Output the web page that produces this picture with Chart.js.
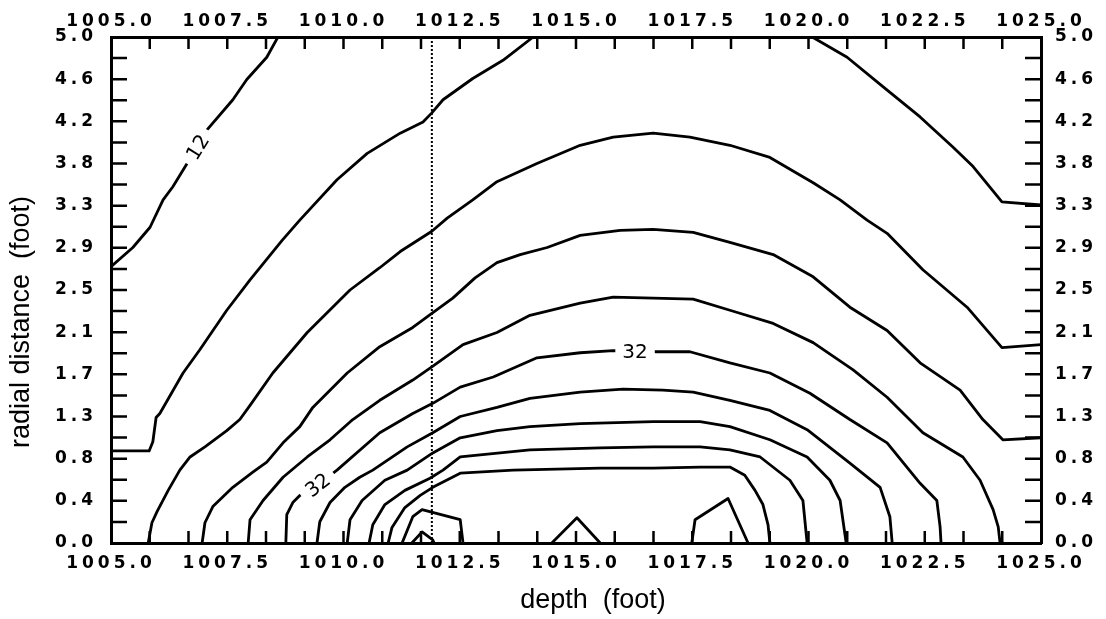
<!DOCTYPE html>
<html>
<head>
<meta charset="utf-8">
<script src="https://cdn.jsdelivr.net/npm/chart.js@4.4.1/dist/chart.umd.min.js"></script>
<style>
  html, body { margin: 0; padding: 0; background: #fff; }
  canvas { display: block; }
</style>
</head>
<body>
<canvas id="chart" width="1106" height="619"></canvas>
<script>
// Axis ticks
const depthTicks = [1005, 1007.5, 1010, 1012.5, 1015, 1017.5, 1020, 1022.5, 1025];
const depthTickLabels = ['1005.0', '1007.5', '1010.0', '1012.5', '1015.0', '1017.5', '1020.0', '1022.5', '1025.0'];
const radialTicks = [0, 0.4167, 0.8333, 1.25, 1.6667, 2.0833, 2.5, 2.9167, 3.3333, 3.75, 4.1667, 4.5833, 5];
const radialTickLabels = ['0.0', '0.4', '0.8', '1.3', '1.7', '2.1', '2.5', '2.9', '3.3', '3.8', '4.2', '4.6', '5.0'];

// Contour lines, [depth (foot), radial distance (foot)]
const iso12 = [[1005.00, 2.73], [1005.47, 2.92], [1005.84, 3.12], [1006.12, 3.39], [1006.33, 3.52], [1006.85, 3.91],
  [1007.06, 4.08], [1007.62, 4.38], [1007.92, 4.58], [1008.35, 4.80], [1008.59, 5.00]];
const isoB = [[1005.00, 0.91], [1005.82, 0.91], [1005.90, 1.00], [1005.97, 1.24], [1006.05, 1.28], [1006.55, 1.68],
  [1006.91, 1.91], [1007.49, 2.30], [1007.99, 2.60], [1008.68, 2.99], [1009.06, 3.19], [1009.86, 3.59], [1010.51, 3.85],
  [1011.22, 4.05], [1011.71, 4.16], [1011.90, 4.25], [1012.14, 4.38], [1012.78, 4.59], [1013.43, 4.77], [1014.08, 5.00]];
const isoBTop = [[1020.08, 5.00], [1020.83, 4.80], [1021.60, 4.51], [1022.40, 4.21], [1023.11, 3.91], [1023.54, 3.72],
  [1024.16, 3.37], [1025.00, 3.34]];
const isoC = [[1005.80, 0.00], [1005.88, 0.20], [1005.99, 0.31], [1006.23, 0.52], [1006.48, 0.72], [1006.70, 0.85],
  [1007.02, 0.95], [1007.49, 1.11], [1007.77, 1.22], [1007.99, 1.36], [1008.48, 1.68], [1009.22, 2.08], [1010.14, 2.50],
  [1010.78, 2.72], [1011.22, 2.88], [1011.90, 3.08], [1012.23, 3.21], [1012.78, 3.39], [1013.30, 3.57], [1014.16, 3.75],
  [1015.09, 3.93], [1015.80, 4.01], [1016.66, 4.05], [1017.45, 4.01], [1018.31, 3.93], [1019.17, 3.81], [1020.10, 3.56],
  [1020.68, 3.39], [1021.26, 3.19], [1021.69, 3.06], [1022.46, 2.70], [1023.41, 2.33], [1024.16, 1.93], [1025.00, 1.96]];
const isoD = [[1006.96, 0.00], [1007.02, 0.20], [1007.19, 0.36], [1007.62, 0.55], [1008.05, 0.70], [1008.35, 0.80],
  [1008.70, 0.99], [1009.06, 1.15], [1009.34, 1.34], [1010.08, 1.68], [1010.78, 1.94], [1011.49, 2.13], [1011.90, 2.27],
  [1012.35, 2.42], [1012.83, 2.62], [1013.30, 2.77], [1013.80, 2.85], [1014.38, 2.92], [1015.09, 3.04], [1015.95, 3.09],
  [1016.66, 3.10], [1017.52, 3.07], [1018.31, 2.97], [1019.24, 2.85], [1020.10, 2.63], [1020.89, 2.33], [1021.69, 2.10],
  [1022.40, 1.78], [1023.26, 1.51], [1023.75, 1.22], [1024.18, 1.02], [1025.00, 1.04]];
const isoE = [[1007.95, 0.00], [1007.99, 0.23], [1008.27, 0.42], [1008.70, 0.65], [1009.22, 0.85], [1009.71, 1.02],
  [1010.20, 1.22], [1010.78, 1.41], [1011.49, 1.61], [1011.90, 1.74], [1012.57, 1.96], [1013.30, 2.08], [1014.01, 2.25],
  [1015.09, 2.37], [1015.80, 2.43], [1016.66, 2.42], [1017.52, 2.41], [1018.31, 2.30], [1019.24, 2.17], [1020.10, 1.98],
  [1020.96, 1.71], [1021.69, 1.44], [1022.46, 1.09], [1023.32, 0.85], [1023.69, 0.62], [1023.97, 0.33], [1024.08, 0.16],
  [1024.12, 0.00]];
const iso32 = [[1008.76, 0.00], [1008.78, 0.28], [1008.91, 0.40], [1009.06, 0.47], [1009.49, 0.59], [1009.86, 0.72],
  [1010.78, 1.09], [1011.49, 1.28], [1011.92, 1.38], [1012.51, 1.54], [1013.22, 1.64], [1014.16, 1.83], [1015.09, 1.88],
  [1015.80, 1.90], [1016.74, 1.89], [1017.45, 1.89], [1018.31, 1.78], [1019.17, 1.68], [1020.03, 1.48], [1020.89, 1.22],
  [1021.69, 0.99], [1022.40, 0.59], [1022.76, 0.42], [1022.83, 0.16], [1022.85, 0.00]];
const isoG = [[1009.43, 0.00], [1009.49, 0.21], [1009.71, 0.40], [1010.03, 0.55], [1010.35, 0.65], [1010.63, 0.72],
  [1011.37, 0.95], [1011.92, 1.09], [1012.51, 1.25], [1013.30, 1.34], [1014.01, 1.43], [1015.09, 1.49], [1016.01, 1.52],
  [1016.87, 1.51], [1017.52, 1.49], [1018.31, 1.41], [1019.17, 1.31], [1019.97, 1.12], [1020.89, 0.79], [1021.54, 0.55],
  [1021.75, 0.26], [1021.80, 0.00]];
const isoH = [[1010.08, 0.00], [1010.14, 0.23], [1010.40, 0.42], [1010.89, 0.62], [1011.37, 0.72], [1011.92, 0.89],
  [1012.51, 1.04], [1013.30, 1.11], [1014.01, 1.15], [1015.09, 1.18], [1016.66, 1.20], [1017.67, 1.20], [1018.31, 1.15],
  [1019.17, 1.02], [1019.97, 0.85], [1020.46, 0.62], [1020.68, 0.42], [1020.81, 0.00]];
const isoI = [[1010.55, 0.00], [1010.63, 0.18], [1010.89, 0.38], [1011.32, 0.52], [1011.86, 0.64], [1012.14, 0.72],
  [1012.51, 0.85], [1014.01, 0.92], [1015.52, 0.94], [1016.66, 0.95], [1017.67, 0.95], [1018.31, 0.92], [1018.96, 0.85],
  [1019.60, 0.62], [1019.88, 0.42], [1019.97, 0.00]];
const isoJ = [[1010.96, 0.00], [1011.04, 0.15], [1011.32, 0.35], [1011.65, 0.47], [1011.92, 0.55], [1012.51, 0.69],
  [1013.65, 0.72], [1015.52, 0.74], [1016.66, 0.74], [1017.67, 0.75], [1018.31, 0.75], [1018.63, 0.67], [1018.85, 0.52],
  [1019.02, 0.38], [1019.13, 0.18], [1019.17, 0.00]];
const bumpA = [[1011.26, 0.00], [1011.49, 0.26], [1011.69, 0.33], [1012.51, 0.23], [1012.57, 0.00]];
const bumpB = [[1011.47, 0.00], [1011.69, 0.11], [1011.92, 0.03], [1011.95, 0.00]];
const bumpC = [[1014.48, 0.00], [1015.02, 0.25], [1015.52, 0.00]];
const bumpD = [[1017.49, 0.00], [1017.56, 0.23], [1018.27, 0.44], [1018.70, 0.00]];

const contourLines = [iso12, isoB, isoBTop, isoC, isoD, isoE, iso32, isoG, isoH, isoI, isoJ, bumpA, bumpB, bumpC, bumpD];

// Inline contour labels
const contourLabels = [
  { text: '12', depth: 1006.87, radius: 3.91, angle: -58 },
  { text: '32', depth: 1016.27, radius: 1.89, angle: 0 },
  { text: '32', depth: 1009.45, radius: 0.57, angle: -38 }
];

// Depth of the vertical reference line
const markerDepth = 1011.9;

const tickFont = { family: '"DejaVu Sans", sans-serif', size: 17, weight: 'bold' };
const titleFont = '27px "Liberation Sans", Arial, sans-serif';

const datasets = contourLines.map(pts => ({
  data: pts.map(([x, y]) => ({ x, y })),
  showLine: true,
  borderColor: '#000',
  borderWidth: 2.8,
  borderJoinStyle: 'round',
  borderCapStyle: 'round',
  pointRadius: 0,
  tension: 0,
  fill: false
}));
datasets.push({
  data: [{ x: markerDepth, y: 0 }, { x: markerDepth, y: 5 }],
  showLine: true,
  borderColor: '#000',
  borderWidth: 2,
  borderDash: [2, 2],
  pointRadius: 0,
  fill: false,
  clip: 6
});

function depthAxis(position, size, pad) {
  return {
    type: 'linear', position, min: 1005, max: 1025,
    afterBuildTicks: s => { s.ticks = depthTicks.map(v => ({ value: v })); },
    ticks: {
      callback: v => depthTickLabels[depthTicks.indexOf(v)],
      font: tickFont, color: '#000', padding: pad, maxRotation: 0, minRotation: 0, autoSkip: false
    },
    grid: { display: false, drawTicks: false },
    border: { display: true, color: '#000', width: 3 },
    afterFit: s => { s.height = size; }
  };
}
function radialAxis(position, size, pad) {
  return {
    type: 'linear', position, min: 0, max: 5,
    afterBuildTicks: s => { s.ticks = radialTicks.map(v => ({ value: v })); },
    ticks: {
      callback: v => radialTickLabels[radialTicks.indexOf(v)],
      font: tickFont, color: '#000', padding: pad, autoSkip: false
    },
    grid: { display: false, drawTicks: false },
    border: { display: true, color: '#000', width: 3 },
    afterFit: s => { s.width = size; }
  };
}

const framePlugin = {
  id: 'framePlugin',
  beforeDraw(chart) { chart.ctx.letterSpacing = '4px'; },
  beforeDatasetsDraw(chart) { chart.ctx.letterSpacing = '0px'; },
  afterDatasetsDraw(chart) {
    const { ctx, scales: { x, y } } = chart;
    ctx.save();
    ctx.letterSpacing = '0px';
    ctx.font = '20px "DejaVu Sans", sans-serif';
    for (const lab of contourLabels) {
      const px = x.getPixelForValue(lab.depth);
      const py = y.getPixelForValue(lab.radius);
      ctx.save();
      ctx.translate(px, py);
      ctx.rotate(lab.angle * Math.PI / 180);
      const w = ctx.measureText(lab.text).width;
      ctx.fillStyle = '#fff';
      ctx.fillRect(-w / 2 - 7, -9, w + 14, 18);
      ctx.fillStyle = '#000';
      ctx.textAlign = 'center';
      ctx.textBaseline = 'middle';
      ctx.fillText(lab.text, 0, 1);
      ctx.restore();
    }
    ctx.restore();
  },
  afterDraw(chart) {
    const { ctx, chartArea: a, scales: { x, y } } = chart;
    ctx.save();
    ctx.letterSpacing = '0px';
    // inward tick marks, 24 intervals on each axis
    ctx.strokeStyle = '#000';
    ctx.lineWidth = 2.5;
    ctx.beginPath();
    for (let i = 1; i < 24; i++) {
      const px = x.getPixelForValue(1005 + i * 20 / 24);
      ctx.moveTo(px, a.bottom); ctx.lineTo(px, a.bottom - 12);
      ctx.moveTo(px, a.top); ctx.lineTo(px, a.top + 12);
      const py = y.getPixelForValue(i * 5 / 24);
      ctx.moveTo(a.left, py); ctx.lineTo(a.left + 16, py);
      ctx.moveTo(a.right, py); ctx.lineTo(a.right - 16, py);
    }
    ctx.stroke();
    // axis titles
    ctx.fillStyle = '#000';
    ctx.font = titleFont;
    ctx.textAlign = 'center';
    ctx.textBaseline = 'alphabetic';
    ctx.fillText('depth  (foot)', (a.left + a.right) / 2 + 17, a.bottom + 65);
    ctx.translate(29, (a.top + a.bottom) / 2 + 32);
    ctx.rotate(-Math.PI / 2);
    ctx.fillText('radial distance  (foot)', 0, 0);
    ctx.restore();
  }
};

new Chart(document.getElementById('chart'), {
  type: 'scatter',
  data: { datasets },
  options: {
    responsive: false,
    animation: false,
    layout: { padding: 0 },
    plugins: { legend: { display: false }, tooltip: { enabled: false } },
    scales: {
      x: depthAxis('bottom', 76, 10),
      x2: depthAxis('top', 37, 5),
      y: radialAxis('left', 111, 14),
      y2: radialAxis('right', 65, 14)
    }
  },
  plugins: [framePlugin]
});
</script>
</body>
</html>
